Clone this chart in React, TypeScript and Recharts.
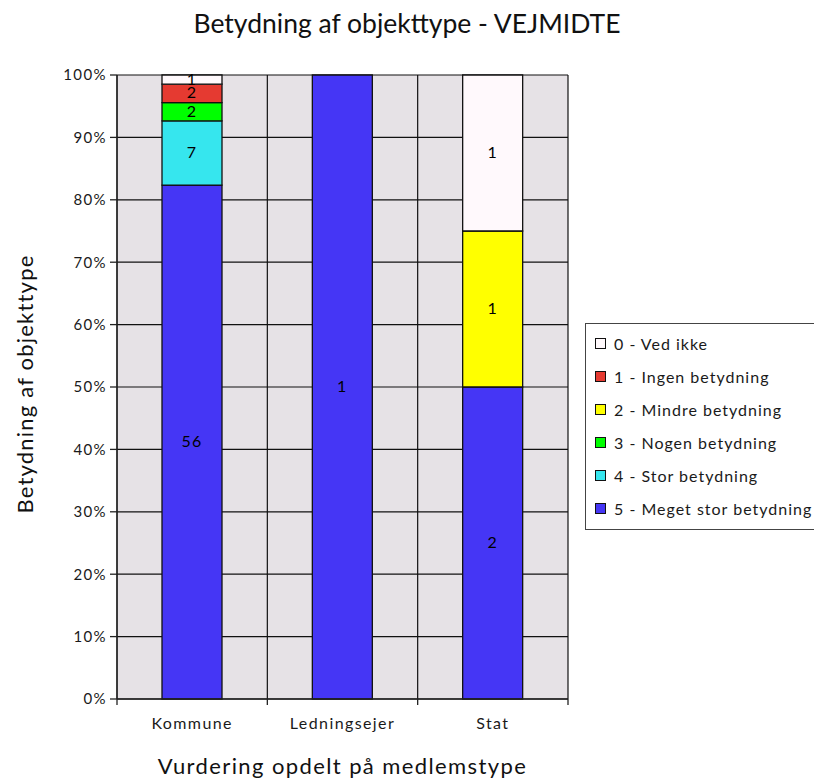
import React from 'react';
import { BarChart, Bar, XAxis, YAxis, CartesianGrid, LabelList, Legend } from 'recharts';

const categories = ['Kommune', 'Ledningsejer', 'Stat'];
const seriesKeys = ['s5', 's4', 's3', 's2', 's1', 's0'];
const seriesNames = ['5 - Meget stor betydning', '4 - Stor betydning', '3 - Nogen betydning', '2 - Mindre betydning', '1 - Ingen betydning', '0 - Ved ikke'];
const seriesColors = ['#4536F5', '#36E6EE', '#00FF00', '#FFFF00', '#E53A31', '#FFF9FC'];
const s5 = [56, 1, 2];
const s4 = [7, 0, 0];
const s3 = [2, 0, 0];
const s2 = [0, 0, 1];
const s1 = [2, 0, 0];
const s0 = [1, 0, 1];
const seriesValues = [s5, s4, s3, s2, s1, s0];
const yTicks = [0, 0.1, 0.2, 0.3, 0.4, 0.5, 0.6, 0.7, 0.8, 0.9, 1];

const data = categories.map((c, i) => {
  const row: any = { name: c };
  seriesKeys.forEach((k, j) => {
    row[k] = seriesValues[j][i];
    row['n_' + k] = seriesValues[j][i];
  });
  return row;
});

const FONT = 'Lato, "Open Sans", sans-serif';
const W = 814;
const H = 783;
const M = { top: 75, right: 246, bottom: 0, left: 0 };
const YW = 117;
const XH = 84;
const plotW = W - M.left - YW - M.right;
const band = plotW / categories.length;

const XTick = (props: any) => {
  const { x, y, payload, index } = props;
  return (
    <g>
      <line x1={x - band / 2} x2={x - band / 2} y1={y} y2={y + 6} stroke="#222" strokeWidth={1.3} />
      {index === categories.length - 1 && (
        <line x1={x + band / 2} x2={x + band / 2} y1={y} y2={y + 6} stroke="#222" strokeWidth={1.3} />
      )}
      <text x={x} y={y + 30} textAnchor="middle" fontSize={16} letterSpacing={1.4} fill="#1a1a1a" fontFamily={FONT}>
        {payload.value}
      </text>
    </g>
  );
};

const ValueLabel = (props: any) => {
  const { x, y, width, height, value } = props;
  if (Array.isArray(value) || !value) return null;
  return (
    <text x={x + width / 2} y={y + height / 2} dy={5} textAnchor="middle" fontSize={16} letterSpacing={1.2} fill="#000" fontFamily={FONT}>
      {value}
    </text>
  );
};

const LegendContent = () => (
  <div style={{ border: '1px solid #444', background: '#fff', width: 240, height: 207, boxSizing: 'border-box', padding: '3px 0 0 9px', fontFamily: FONT }}>
    {seriesNames.map((_, i) => {
      const j = seriesNames.length - 1 - i;
      return (
        <div key={j} style={{ display: 'flex', alignItems: 'center', height: 33 }}>
          <div style={{ width: 9, height: 9, border: '1px solid #111', background: seriesColors[j], marginRight: 8 }} />
          <span style={{ fontSize: 16, letterSpacing: 1, color: '#1a1a1a', whiteSpace: 'nowrap' }}>{seriesNames[j]}</span>
        </div>
      );
    })}
  </div>
);

export default function App() {
  return (
    <div style={{ position: 'absolute', left: 0, top: 0, width: W, height: H, background: '#fff', overflow: 'hidden' }}>
      <div style={{ position: 'absolute', left: 0, top: 7, width: W, textAlign: 'center', fontFamily: FONT, fontSize: 26.5, color: '#111' }}>
        Betydning af objekttype - VEJMIDTE
      </div>
      <div style={{ position: 'absolute', left: 117, top: 752, width: plotW, textAlign: 'center', fontFamily: FONT, fontSize: 22, letterSpacing: 1.4, color: '#111' }}>
        Vurdering opdelt på medlemstype
      </div>
      <div style={{ position: 'absolute', left: 24, top: 384, width: 0, height: 0 }}>
        <div style={{ position: 'absolute', transform: 'translate(-50%, -50%) rotate(-90deg)', fontFamily: FONT, fontSize: 22, letterSpacing: 1.2, color: '#111', whiteSpace: 'nowrap' }}>
          Betydning af objekttype
        </div>
      </div>
      <BarChart width={W} height={H} data={data} margin={M} stackOffset="expand" barSize={60}>
        <CartesianGrid
          stroke="#111"
          strokeWidth={1.2}
          fill="#E6E2E6"
          fillOpacity={1}
          verticalCoordinatesGenerator={({ offset }: any) =>
            [0, 1, 2, 3].map((i) => offset.left + (i * offset.width) / 3)
          }
        />
        <XAxis dataKey="name" height={XH} axisLine={{ stroke: '#222', strokeWidth: 1.3 }} tickLine={false} tickSize={0} tickMargin={0} tick={<XTick />} interval={0} />
        <YAxis
          width={YW}
          domain={[0, 1]}
          ticks={yTicks}
          tickFormatter={(v: number) => `${Math.round(v * 100)}%`}
          axisLine={{ stroke: '#222', strokeWidth: 1.3 }}
          tickLine={{ stroke: '#222', strokeWidth: 1.3 }}
          tickSize={7}
          tickMargin={3}
          tick={{ fontSize: 15, letterSpacing: 1.4, fill: '#1a1a1a', fontFamily: FONT }}
        />
        {seriesKeys.map((k, j) => (
          <Bar key={k} dataKey={k} name={seriesNames[j]} stackId="a" fill={seriesColors[j]} stroke="#111" strokeWidth={1.3} isAnimationActive={false}>
            <LabelList dataKey={'n_' + k} content={<ValueLabel />} />
          </Bar>
        ))}
        <Legend
          layout="vertical"
          verticalAlign="middle"
          align="center"
          wrapperStyle={{ left: 585, top: 323, width: 240 }}
          content={<LegendContent />}
        />
      </BarChart>
    </div>
  );
}
